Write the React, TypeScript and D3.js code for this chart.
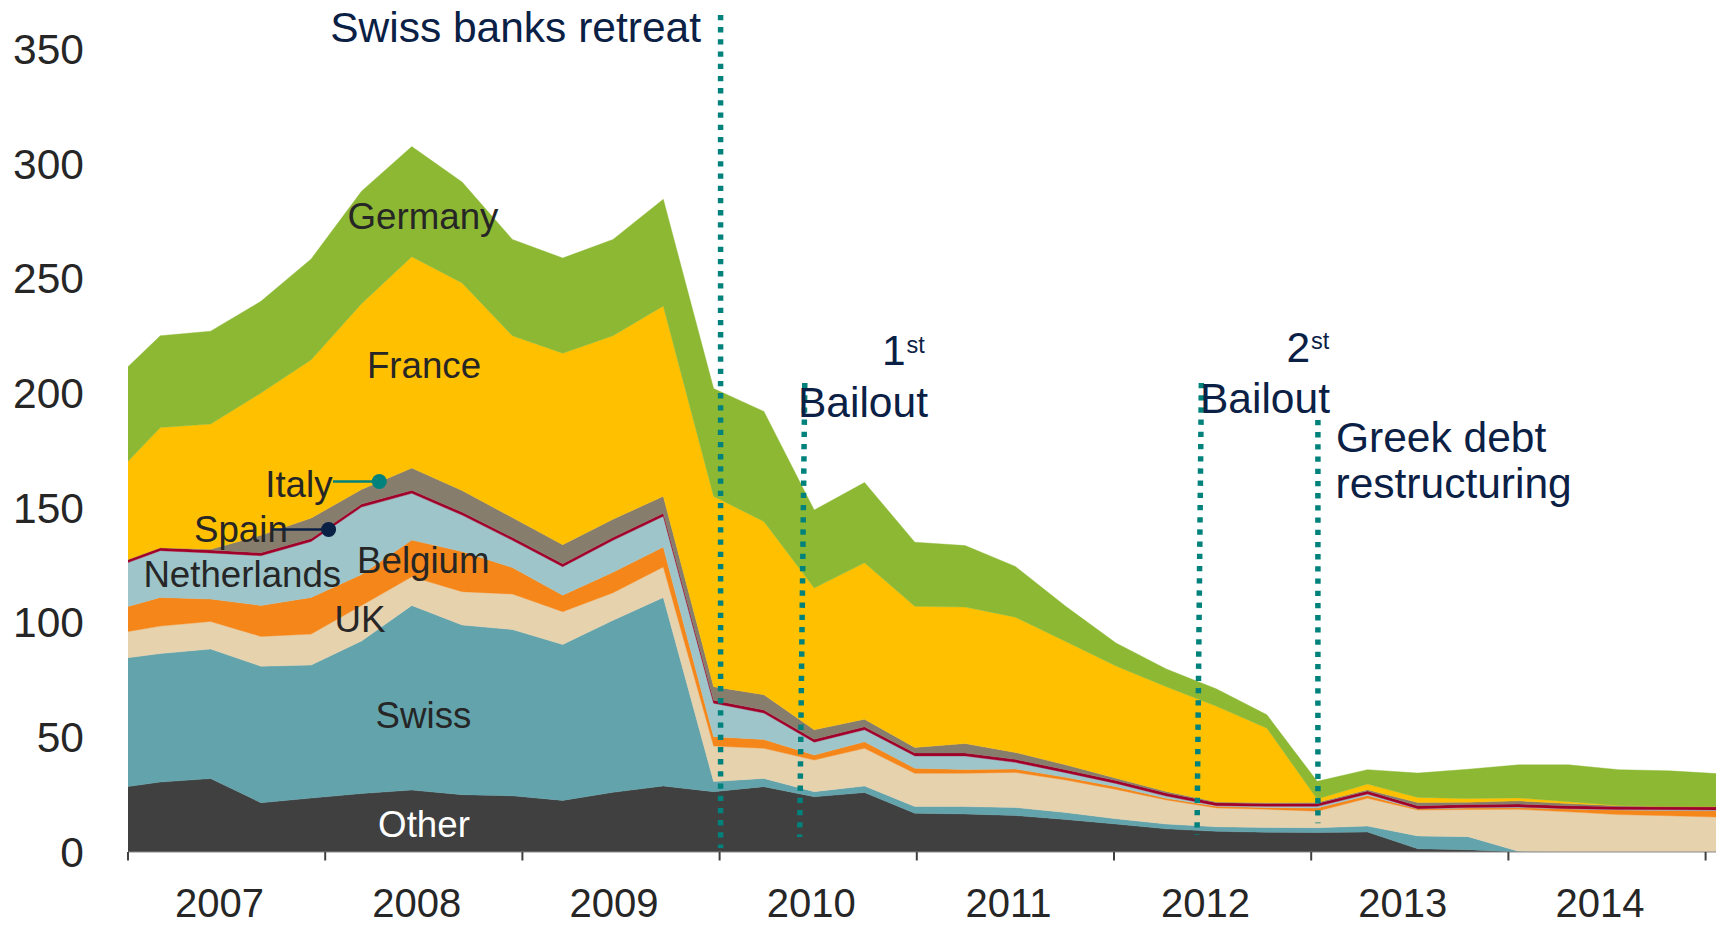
import React from 'react';
import * as d3 from 'd3';

// ---- Data (USD bn, quarterly observations, stacked bottom -> top) ----
const seriesNames = ['Other', 'Swiss', 'UK', 'Belgium', 'Netherlands', 'Spain', 'Italy', 'France', 'Germany'];

const other = [27.4, 30.5, 32, 21.5, 23.5, 25.5, 27, 25, 24.5, 22.5, 26, 28.8, 26.3, 28.5, 24.1, 25.9, 16.9, 16.6, 15.9, 14.2, 12.2, 10.1, 9, 8.6, 8.5, 8.7, 1.4, 1, 0, 0, 0, 0, 0];
const swiss = [56.3, 56, 56.5, 59.5, 58, 66.5, 80.5, 74, 72.5, 68, 75, 82.2, 4.4, 3.6, 2.2, 2.9, 2.9, 3.2, 3.5, 3.0, 2.3, 2.1, 2.0, 2.1, 2.1, 2.6, 5.6, 5.7, 0.3, 0, 0, 0, 0];
const uk = [11.1, 12, 12, 13, 13.5, 15.5, 12.5, 14.5, 15.5, 14.3, 12, 13.3, 15.5, 13.1, 13.8, 16.4, 14.5, 14.5, 15.3, 14.2, 12.8, 10.5, 8.2, 7.9, 7.2, 12.1, 11.3, 11.8, 18.3, 17.5, 16.3, 15.8, 15.2];
const belgium = [10, 12.5, 9.8, 13.5, 16, 13.5, 16, 17.5, 11.5, 7.2, 9, 8.7, 4.1, 3.9, 2.2, 2.9, 2.2, 1.7, 1.5, 1.2, 1.2, 0.7, 0.7, 0.8, 1.4, 1.2, 0.5, 0.7, 0.7, 1.3, 2, 2.3, 2.8];
const netherlands = [18.5, 20.4, 20.1, 21.7, 24.4, 29.4, 20.4, 15.9, 11.9, 12.4, 13.9, 13.4, 14.6, 11.5, 5.6, 5.2, 5.4, 5.9, 2.9, 2.0, 1.4, 1.0, 0.3, 0.5, 0.7, 0.7, 0.1, 0.2, 0.3, 0.1, 0.2, 0.3, 0.3];
const spain = [1.3, 1.3, 1.3, 1.3, 1.3, 1.3, 1.3, 1.3, 1.3, 1.3, 1.3, 1.3, 1.3, 1.3, 1.3, 1.3, 1.3, 1.3, 1.3, 1.3, 1.3, 1.3, 1.3, 1.3, 1.3, 1.3, 1.3, 1.3, 1.3, 1.3, 1.3, 1.3, 1.3];
const italy = [0, 0, 0.3, 7.6, 8.9, 6.4, 9.7, 9.4, 8.6, 8.3, 7.9, 7.4, 5.9, 6.7, 4.1, 3.3, 2.4, 4.1, 3.0, 2.1, 1.0, 0.7, 0.3, 0.3, 0.4, 0.5, 1.4, 1.0, 1.4, 0.9, 0.4, 0.3, 0.3];
const france = [37.5, 52.4, 54.6, 62, 69, 81, 92.2, 90.5, 79.3, 83.5, 80, 83, 83, 75.5, 61.8, 68.2, 61.5, 59.5, 59, 53.8, 48.9, 45.7, 41.7, 32.5, 1.5, 2.5, 2.2, 1.6, 1.3, 0.8, 0.1, 0, 0];
const germany = [42, 40, 40.5, 40, 44, 49, 48, 44, 42, 41.5, 42, 46.5, 47, 48, 34, 35, 28, 26.8, 22.1, 15.3, 10, 7.7, 7.6, 5.8, 7.7, 6.3, 10.6, 12.8, 14.4, 16.1, 15.6, 15.4, 14.2];

const seriesValues: Record<string, number[]> = {
  Other: other, Swiss: swiss, UK: uk, Belgium: belgium, Netherlands: netherlands,
  Spain: spain, Italy: italy, France: france, Germany: germany,
};

const seriesColors: Record<string, string> = {
  Other: '#404040', Swiss: '#62A3AC', UK: '#E7D2AE', Belgium: '#F5861A', Netherlands: '#9DC5CA',
  Spain: '#A0002A', Italy: '#877D6C', France: '#FFC000', Germany: '#8CB833',
};

const yTicks = [0, 50, 100, 150, 200, 250, 300, 350];
const yearLabels = [2007, 2008, 2009, 2010, 2011, 2012, 2013, 2014];
const yearTicks = [2007, 2008, 2009, 2010, 2011, 2012, 2013, 2014, 2015];

// event markers: [top year, bottom year, top value, bottom value]
const eventLines = [
  { name: 'Swiss banks retreat', yearTop: 2010.005, yearBottom: 2010.005, vTop: 365, vBottom: 1.7 },
  { name: '1st Bailout', yearTop: 2010.432, yearBottom: 2010.406, vTop: 204.5, vBottom: 6.5 },
  { name: '2nd Bailout', yearTop: 2012.443, yearBottom: 2012.421, vTop: 204.5, vBottom: 7.4 },
  { name: 'Greek debt restructuring', yearTop: 2013.034, yearBottom: 2013.034, vTop: 188.4, vBottom: 12.5 },
];

const FONT = '"Liberation Sans", Arial, Helvetica, sans-serif';
const NAVY = '#0B2045';
const TEAL = '#00827C';
const LABEL = '#262626';

export default function App() {
  const W = 1719;
  const H = 926;
  const plotLeft = 128;
  const plotRight = 1716;
  const y = d3.scaleLinear().domain([0, 350]).range([852, 49.3]);
  const xYear = d3.scaleLinear().domain([2007, 2015]).range([128, 1705.6]);
  const xObs = d3.scaleLinear().domain([0, other.length - 1]).range([110, 1719.6]);

  const rows = other.map((_, i) => {
    const r: any = { i };
    seriesNames.forEach((n) => (r[n] = seriesValues[n][i]));
    return r;
  });
  const stacked = d3.stack<any>().keys(seriesNames)(rows);
  const area = d3
    .area<any>()
    .x((d) => xObs(d.data.i))
    .y0((d) => y(d[0]))
    .y1((d) => y(d[1]))
    .curve(d3.curveLinear);

  return (
    <svg
      width={W}
      height={H}
      style={{ position: 'absolute', left: 0, top: 0, background: '#ffffff' }}
      fontFamily={FONT}
    >
      <defs>
        <clipPath id="plotClip">
          <rect x={plotLeft} y={0} width={plotRight - plotLeft} height={y(0)} />
        </clipPath>
      </defs>

      <g clipPath="url(#plotClip)">
        {stacked.map((s) => (
          <path key={s.key} d={area(s) || ''} fill={seriesColors[s.key]} stroke={seriesColors[s.key]} strokeWidth={0.4} />
        ))}
      </g>

      {/* x axis */}
      <line x1={plotLeft} x2={plotRight} y1={y(0)} y2={y(0)} stroke="#8a8a8a" strokeWidth={1.2} />
      {yearTicks.map((t) => (
        <line key={t} x1={xYear(t)} x2={xYear(t)} y1={y(0)} y2={y(0) + 8.5} stroke="#404040" strokeWidth={2} />
      ))}
      {yearLabels.map((t) => (
        <text
          key={t}
          x={(xYear(t) + xYear(t + 1)) / 2 - 7}
          y={917}
          textAnchor="middle"
          fontSize={40}
          fill={LABEL}
        >
          {t}
        </text>
      ))}

      {/* y axis labels */}
      {yTicks.map((t) => (
        <text key={t} x={84} y={y(t) + 14.8} textAnchor="end" fontSize={42.5} fill={LABEL}>
          {t}
        </text>
      ))}

      {/* event lines */}
      {eventLines.map((e) => (
        <line
          key={e.name}
          x1={xYear(e.yearTop)}
          x2={xYear(e.yearBottom)}
          y1={y(e.vTop)}
          y2={y(e.vBottom)}
          stroke={TEAL}
          strokeWidth={5.5}
          strokeDasharray="5.3 6.9"
        />
      ))}

      {/* series labels */}
      <g fontSize={36.7} fill={LABEL}>
        <text x={423} y={229} textAnchor="middle">Germany</text>
        <text x={424} y={378.3} textAnchor="middle">France</text>
        <text x={242.3} y={586.7} textAnchor="middle">Netherlands</text>
        <text x={423.3} y={573.3} textAnchor="middle">Belgium</text>
        <text x={360} y={631.7} textAnchor="middle">UK</text>
        <text x={423.5} y={728.3} textAnchor="middle">Swiss</text>
        <text x={424} y={837.3} textAnchor="middle" fill="#ffffff">Other</text>
        <text x={332.5} y={496.7} textAnchor="end">Italy</text>
        <text x={194} y={541.7} textAnchor="start">Spain</text>
      </g>
      <line x1={333} x2={379.3} y1={481.5} y2={481.5} stroke={TEAL} strokeWidth={2.5} />
      <circle cx={379.3} cy={481.5} r={7.5} fill={TEAL} />
      <line x1={272} x2={328.6} y1={529.5} y2={529.5} stroke={NAVY} strokeWidth={2.5} />
      <circle cx={328.6} cy={529.5} r={7.5} fill={NAVY} />

      {/* annotations */}
      <g fill={NAVY} fontSize={42.5}>
        <text x={701} y={41.7} textAnchor="end">Swiss banks retreat</text>
        <text x={882} y={365}>1</text>
        <text x={906.6} y={353.3} fontSize={23.5}>st</text>
        <text x={798} y={416.7}>Bailout</text>
        <text x={1286.5} y={362.3}>2</text>
        <text x={1311} y={349.3} fontSize={23.5}>st</text>
        <text x={1200} y={413.3}>Bailout</text>
        <text x={1336} y={451.5}>Greek debt</text>
        <text x={1335.5} y={497.5}>restructuring</text>
      </g>
    </svg>
  );
}
